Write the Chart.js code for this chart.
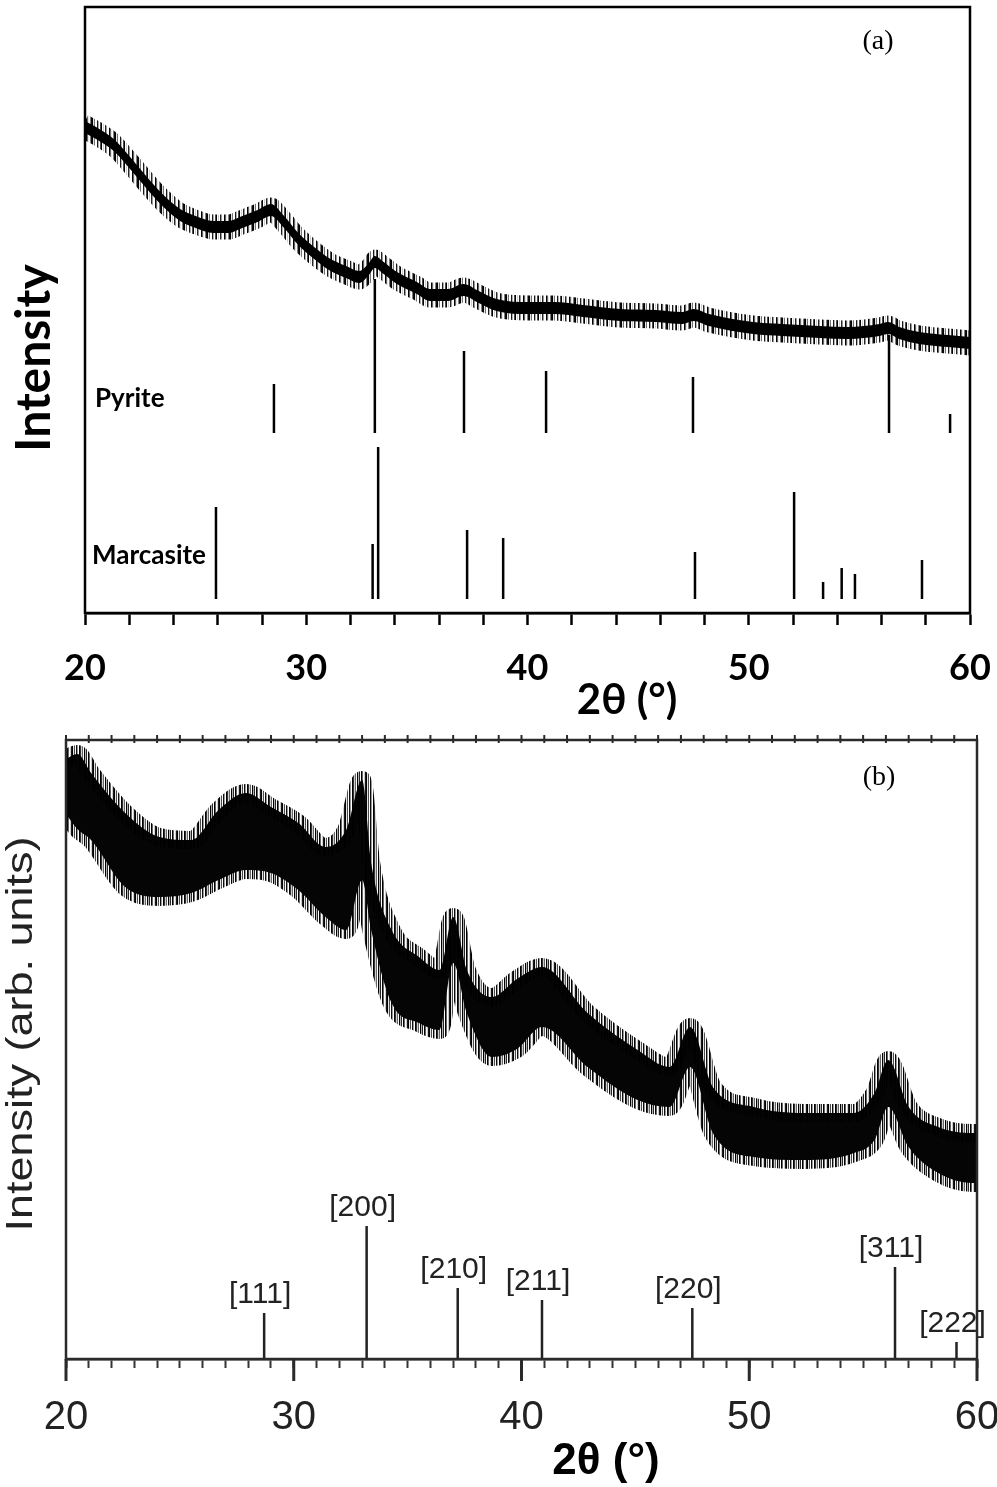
<!DOCTYPE html>
<html>
<head>
<meta charset="utf-8">
<script src="https://cdn.jsdelivr.net/npm/chart.js@4.4.1/dist/chart.umd.min.js"></script>
<style>
  html, body { margin: 0; padding: 0; background: #fff; }
  #wrap { position: relative; width: 997px; height: 1487px; }
  canvas { position: absolute; left: 0; }
  #chartA { top: 0; }
  #chartB { top: 720px; }
</style>
</head>
<body>
<div id="wrap">
  <canvas id="chartA" width="997" height="720"></canvas>
  <canvas id="chartB" width="997" height="767"></canvas>
</div>
<script>
'use strict';

var angleA = [20, 20.5, 21.3, 22, 22.8, 23.5, 24.3, 25, 25.8, 26.5, 27.0, 27.8, 28.4, 29.0, 29.6,
  30.3, 31.1, 31.8, 32.4, 32.8, 33.1, 33.5, 34.1, 35.0, 35.6, 36.4, 37.1, 37.8, 38.6, 40.1,
  41.2, 42.5, 44.2, 45.8, 47.0, 47.5, 48.2, 50.2, 51.5, 53.2, 54.5, 55.9, 56.3, 56.8, 57.7, 59.0, 60];
var upperA = [492, 486, 474, 457, 436, 419, 404, 397, 392, 392, 396, 403, 409, 397, 381,
  367, 354, 347, 342, 349, 357, 351, 341, 331, 324, 324, 329, 322, 314, 311,
  311, 308, 304, 303, 301, 304, 299, 291, 289, 287, 286, 289, 291, 286, 281, 278, 276];
var lowerA = [480, 474, 462, 445, 424, 407, 392, 385, 380, 380, 384, 391, 397, 385, 369,
  355, 342, 335, 330, 337, 345, 339, 329, 319, 312, 312, 317, 310, 302, 299,
  299, 296, 292, 291, 289, 292, 287, 279, 277, 275, 274, 277, 279, 274, 269, 266, 264];

// reference sticks, panel (a)
var pyriteBase = 180;
var pyriteAngle = [28.54, 33.1, 37.13, 40.84, 47.48, 56.34, 59.1];
var pyriteTop   = [229, 334, 262, 242, 236, 278, 199];
var marcBase = 14;
var marcAngle = [25.92, 33.0, 33.25, 37.27, 38.9, 47.57, 52.05, 53.36, 54.2, 54.8, 57.83];
var marcTop   = [106, 69, 166, 83, 75, 61, 121, 31, 45, 39, 53];

// ── Panel (b): measured pattern band ────────────────────────────────────────
var angleB = [20.0, 20.5, 21.1, 22.6, 24.1, 25.5, 26.7, 27.9, 29.0, 30.2, 31.4, 32.3, 33.0, 33.4,
  34.3, 35.5, 36.4, 37.0, 37.6, 38.7, 39.8, 40.9, 42.9, 45.1, 46.5, 47.4, 48.4, 50.2, 52.4,
  54.6, 55.5, 56.1, 57.0, 58.3, 59.8, 60];
var upperB = [600, 605, 586, 546, 522, 519, 549, 566, 552, 536, 512, 529, 579, 496,
  429, 402, 389, 442, 389, 362, 380, 392, 346, 309, 292, 332, 272, 252, 246,
  246, 266, 299, 252, 232, 226, 226];
var lowerB = [545, 530, 519, 472, 462, 466, 479, 489, 486, 469, 442, 429, 479, 429,
  356, 336, 329, 396, 346, 302, 310, 332, 292, 259, 252, 292, 226, 202, 199,
  206, 219, 252, 212, 186, 176, 176];

// reference sticks with Miller indices, panel (b)
var hklLabel = ['[111]', '[200]', '[210]', '[211]', '[220]', '[311]', '[222]'];
var hklAngle = [28.7, 33.2, 37.2, 40.9, 47.5, 56.4, 59.1];
var hklTop   = [46, 133, 71, 59, 51, 92, 17];

var xTicksMajor = [20, 30, 40, 50, 60];

// ── helpers ──────────────────────────────────────────────────────────────────
function pts(xs, ys) {
  return xs.map(function (x, i) { return { x: x, y: ys[i] }; });
}
function sticks(xs, base, tops) {
  var d = [];
  xs.forEach(function (x, i) {
    d.push({ x: x, y: base }, { x: x, y: tops[i] }, { x: x, y: null });
  });
  return d;
}
// vertical hair-line stroke pattern, gives the band edges a noisy look
function hairPattern(ctx, alphas) {
  var c = document.createElement('canvas');
  c.width = alphas.length; c.height = 4;
  var g = c.getContext('2d');
  alphas.forEach(function (a, i) {
    g.fillStyle = 'rgba(0,0,0,' + a + ')';
    g.fillRect(i, 0, 1, 4);
  });
  return ctx.createPattern(c, 'repeat');
}
function bandSets(xs, up, lo, fillColor, edge, edgeWidth) {
  return [
    { data: pts(xs, up), fill: '+1', backgroundColor: fillColor, borderColor: edge,
      borderWidth: edgeWidth, pointRadius: 0, cubicInterpolationMode: 'monotone' },
    { data: pts(xs, lo), fill: false, borderColor: edge,
      borderWidth: edgeWidth, pointRadius: 0, cubicInterpolationMode: 'monotone' }
  ];
}
function stickSet(data, color, width) {
  return { data: data, fill: false, borderColor: color, borderWidth: width,
           pointRadius: 0, spanGaps: false, tension: 0 };
}
function majorLabel(v) {
  var r = Math.round(v);
  return (Math.abs(v - r) < 1e-6 && xTicksMajor.indexOf(r) >= 0) ? String(r) : '';
}

// ── Panel (a) ────────────────────────────────────────────────────────────────
var ctxA = document.getElementById('chartA').getContext('2d');
var hairsA = hairPattern(ctxA, [1, 0.1, 0.55, 0, 0, 0.9, 0.3, 0, 0.7, 1, 0, 0.2, 0, 0.85,
  0.4, 0, 0, 1, 0.6, 0.1, 0, 0.5, 0.95]);

var decorA = {
  id: 'decorA',
  afterDraw: function (chart) {
    var ctx = chart.ctx, a = chart.chartArea;
    ctx.save();
    ctx.strokeStyle = '#000';
    ctx.lineWidth = 2.5;
    ctx.strokeRect(a.left, a.top, a.right - a.left, a.bottom - a.top);

    ctx.fillStyle = '#000';
    ctx.font = '28px "Liberation Serif"';
    ctx.textAlign = 'center';
    ctx.textBaseline = 'middle';
    ctx.fillText('(a)', 878, 42);

    ctx.font = 'bold 26px Lato';
    ctx.textAlign = 'left';
    ctx.fillText('Pyrite', 95, 399);
    ctx.fillText('Marcasite', 92, 556);

    ctx.textAlign = 'center';
    ctx.font = 'bold 42px Lato';
    ctx.fillText('2θ (°)', 627, 700);

    ctx.translate(35, 358);
    ctx.rotate(-Math.PI / 2);
    ctx.font = 'bold 48px Lato';
    ctx.fillText('Intensity', 0, 0);
    ctx.restore();
  }
};

new Chart(ctxA, {
  type: 'line',
  data: {
    datasets: bandSets(angleA, upperA, lowerA, '#000', hairsA, 13).concat([
      stickSet(sticks(pyriteAngle, pyriteBase, pyriteTop), '#000', 2.5),
      stickSet(sticks(marcAngle, marcBase, marcTop), '#000', 2.5)
    ])
  },
  options: {
    responsive: false,
    animation: false,
    layout: { padding: { left: 85, right: 27, top: 7, bottom: 0 } },
    plugins: { legend: { display: false }, tooltip: { enabled: false } },
    scales: {
      x: {
        type: 'linear', min: 20, max: 60,
        ticks: {
          stepSize: 2, maxRotation: 0, autoSkip: false, padding: 22,
          color: '#000', font: { family: 'Lato', weight: 'bold', size: 36 },
          callback: majorLabel
        },
        grid: { drawOnChartArea: false, drawTicks: true, tickLength: 12, tickWidth: 2.5, tickColor: '#000' },
        border: { display: true, color: '#000', width: 2.5 },
        afterFit: function (s) { s.height = 107; s.paddingLeft = 0; s.paddingRight = 0; }
      },
      y: { display: false, min: 0, max: 606 }
    }
  },
  plugins: [decorA]
});

// ── Panel (b) ────────────────────────────────────────────────────────────────
var ctxB = document.getElementById('chartB').getContext('2d');
var hairsB = hairPattern(ctxB, [1, 0.3, 0.85, 0, 1, 0.6, 0, 0.2, 0.9, 1, 0.1, 0.7, 0, 0.95,
  0.4, 0, 1, 0.8, 0.2, 0.6, 0]);

var decorB = {
  id: 'decorB',
  afterDraw: function (chart) {
    var ctx = chart.ctx, a = chart.chartArea;
    var xs = chart.scales.x, ys = chart.scales.y;
    ctx.save();
    ctx.strokeStyle = '#2a2a2a';
    ctx.lineWidth = 2.5;
    ctx.strokeRect(a.left, a.top, a.right - a.left, a.bottom - a.top);

    // longer ticks at the labelled angles, small ticks along the top border
    ctx.lineWidth = 3;
    xTicksMajor.forEach(function (v) {
      var px = xs.getPixelForValue(v);
      ctx.beginPath(); ctx.moveTo(px, a.bottom); ctx.lineTo(px, a.bottom + 22); ctx.stroke();
    });
    ctx.lineWidth = 2;
    for (var v = 20; v <= 60; v++) {
      var px = xs.getPixelForValue(v);
      ctx.beginPath(); ctx.moveTo(px, a.top - 5); ctx.lineTo(px, a.top + 3); ctx.stroke();
    }

    ctx.fillStyle = '#222';
    ctx.textAlign = 'center';
    ctx.textBaseline = 'alphabetic';
    ctx.font = '30px "Liberation Sans"';
    hklLabel.forEach(function (t, i) {
      ctx.fillText(t, xs.getPixelForValue(hklAngle[i]) - 4, ys.getPixelForValue(hklTop[i]) - 10);
    });

    ctx.fillStyle = '#000';
    ctx.textBaseline = 'middle';
    ctx.font = '28px "Liberation Serif"';
    ctx.fillText('(b)', 879, 58);

    ctx.font = 'bold 44px "Liberation Sans"';
    ctx.fillText('2θ (°)', 606, 742);

    ctx.fillStyle = '#222';
    ctx.translate(22, 314);
    ctx.rotate(-Math.PI / 2);
    ctx.scale(1.25, 1);
    ctx.font = '36px "Liberation Sans"';
    ctx.fillText('Intensity (arb. units)', 0, 0);
    ctx.restore();
  }
};

new Chart(ctxB, {
  type: 'line',
  data: {
    datasets: bandSets(angleB, upperB, lowerB, '#050505', hairsB, 18).concat([
      stickSet(sticks(hklAngle, 0, hklTop), '#222', 2.5)
    ])
  },
  options: {
    responsive: false,
    animation: false,
    layout: { padding: { left: 66, right: 20, top: 20, bottom: 0 } },
    plugins: { legend: { display: false }, tooltip: { enabled: false } },
    scales: {
      x: {
        type: 'linear', min: 20, max: 60,
        ticks: {
          stepSize: 1, maxRotation: 0, autoSkip: false, padding: 26,
          color: '#222', font: { family: 'Liberation Sans', size: 40 },
          callback: majorLabel
        },
        grid: { drawOnChartArea: false, drawTicks: true, tickLength: 9, tickWidth: 2, tickColor: '#333' },
        border: { display: true, color: '#2a2a2a', width: 2.5 },
        afterFit: function (s) { s.height = 128; s.paddingLeft = 0; s.paddingRight = 0; }
      },
      y: { display: false, min: 0, max: 619 }
    }
  },
  plugins: [decorB]
});
</script>
</body>
</html>
